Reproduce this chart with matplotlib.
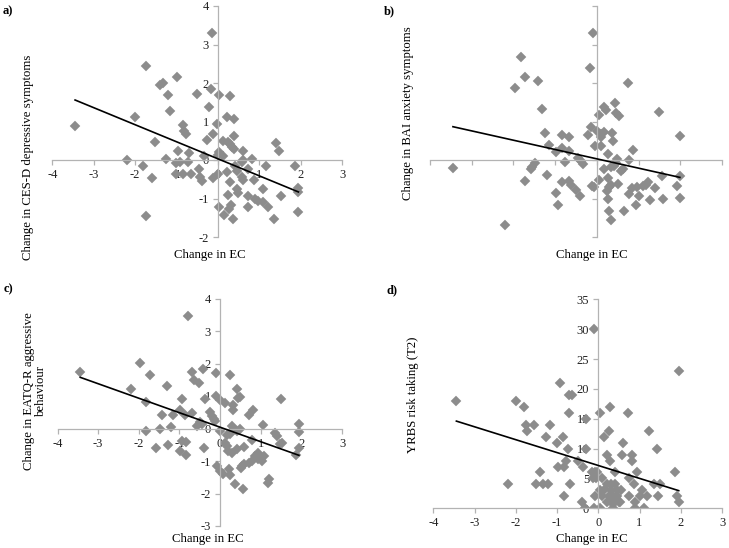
import matplotlib.pyplot as plt

plt.rcParams['font.family'] = ['Liberation Serif', 'DejaVu Serif']
plt.rcParams['axes.unicode_minus'] = False

# a) change in EC vs change in CES-D depressive symptoms
ec_a = [-3.45, -2.0, -1.75, -1.40, -1.34, -1.21, -1.17, -1.0, -0.50, -0.18,
        -0.21, 0.03, 0.29, 0.21, 0.39, -0.14, -0.85, -0.82, -0.78, -0.02,
        -0.11, 0.39, -1.52, -0.26, 0.13, 0.25, 0.29, 0.34, 0.39, -0.96,
        -0.69, 0.03, 0.01, -0.35, 0.13, 0.60, 0.60, 0.83, 0.59, 1.40,
        1.48, 1.17, 1.86, -2.2, -1.26, -1.02, -0.72, -1.82, -1.59, -1.02,
        -0.84, -0.65, -0.45, -0.43, -0.39, -0.13, 0.01, 0.21, 0.29, 0.47,
        0.61, 0.87, 0.73, 0.47, 0.49, 0.23, 0.72, 1.09, 0.89, 0.97,
        1.08, 1.20, 0.73, 1.51, 1.94, 1.92, 1.94, 1.35, 0.02, 0.31,
        0.27, 0.14, 0.37, -1.75, 0.41, -0.92, 0.57]
dep_a = [0.89, 1.11, 2.43, 1.95, 2.0, 1.70, 1.26, 2.16, 1.71, 1.84,
         1.38, 1.69, 1.67, 1.12, 1.06, 3.29, 0.92, 0.75, 0.68, 0.94,
         0.68, 0.63, 0.46, 0.52, 0.50, 0.48, 0.42, 0.35, 0.29, 0.23,
         0.17, 0.20, 0.14, 0.11, 0.11, 0.24, 0.0, 0.03, -0.06, 0.44,
         0.24, -0.15, -0.15, 0.0, 0.03, -0.08, -0.06, -0.16, -0.48, -0.36,
         -0.36, -0.36, -0.23, -0.43, -0.54, -0.48, -0.36, -0.32, -0.58, -0.28,
         -0.52, -0.52, -0.23, -0.75, -0.86, -0.91, -0.94, -0.75, -1.01, -1.06,
         -1.10, -1.23, -1.21, -0.94, -0.74, -0.84, -1.36, -1.53, -1.23, -1.17,
         -1.27, -1.43, -1.52, -1.45, -0.15, -0.06, -0.45]
trend_a = (-0.443, 0.03)

# b) change in EC vs change in BAI anxiety symptoms
ec_b = [-1.82, -1.73, -1.97, -1.41, -1.31, -0.09, -0.17, 0.75, 0.43, 0.18,
        0.21, 0.06, 0.47, 0.53, 1.49, -1.25, -0.83, -0.67, -0.14, -0.21,
        0.01, 0.09, 0.11, 0.18, 0.37, 0.38, 1.99, -1.15, -0.98, -0.83,
        -0.67, -0.05, 0.09, 0.27, 0.87, -0.77, -0.46, -0.39, -0.33, -1.49,
        -1.55, -1.59, 0.49, 0.46, 0.41, 0.34, 0.18, 0.57, 0.63, 0.78,
        -1.19, -1.73, -0.83, -0.67, -0.61, -0.49, -0.99, -0.41, -0.93, -0.11,
        -0.07, 0.06, 0.26, 0.34, 0.29, 0.25, 0.51, 0.26, 0.29, 0.35,
        0.66, 0.77, 0.85, 0.97, 1.01, 0.93, 1.11, 1.17, 1.23, 1.27,
        1.39, 1.55, 1.58, 1.93, 1.99, 1.99, -3.45, -2.21]
anx_b = [2.67, 2.15, 1.86, 2.06, 1.32, 3.29, 2.39, 1.99, 1.47, 1.37,
         1.31, 1.18, 1.21, 1.15, 1.24, 0.69, 0.66, 0.59, 0.85, 0.66,
         0.75, 0.68, 0.59, 0.72, 0.70, 0.50, 0.62, 0.39, 0.20, 0.31,
         0.23, 0.36, 0.36, 0.16, 0.27, -0.06, 0.04, -0.02, -0.10, -0.08,
         -0.19, -0.23, 0.03, -0.08, -0.15, -0.19, -0.23, -0.28, -0.23, 0.01,
         -0.38, -0.54, -0.56, -0.54, -0.65, -0.77, -0.87, -0.93, -1.17, -0.67,
         -0.71, -0.51, -0.47, -0.64, -0.71, -0.80, -0.63, -1.0, -1.32, -1.55,
         -1.32, -0.88, -0.73, -0.71, -0.93, -1.17, -0.68, -0.65, -0.58, -1.03,
         -0.74, -0.42, -1.01, -0.68, -0.42, -0.99, -0.22, -1.69]
trend_b = (-0.242, 0.03)

# c) change in EC vs change in EATQ-R aggressive behaviour
ec_c = [-0.78, -3.44, -1.97, -1.72, -2.19, -1.31, -0.70, -0.63, -0.52, -0.43,
        -0.11, 0.25, -0.94, -0.37, -0.10, 0.0, 0.11, 0.41, 0.43, 0.49,
        0.31, 0.33, 1.50, 0.82, 0.72, -1.83, -1.42, -1.17, -0.98, -0.86,
        -0.70, -0.25, -0.19, -0.16, -0.12, -1.83, -1.49, -1.2, -0.57, -0.49,
        -0.45, 0.0, 0.16, 0.25, 0.30, 0.35, 0.41, 0.49, 0.79, 1.06,
        1.35, 1.41, 1.52, 1.47, 1.94, 1.94, 1.94, 1.88, -1.58, -1.27,
        -0.94, -0.84, -0.98, -0.84, -0.39, 0.11, 0.16, 0.20, 0.29, 0.41,
        0.60, 0.70, 0.78, 0.86, 0.94, 0.93, 1.02, 1.08, 0.51, 0.55,
        0.60, -0.08, 0.0, 0.07, 0.23, 0.25, 0.37, 0.57, 1.21, 1.17]
agg_c = [3.47, 1.73, 2.02, 1.64, 1.22, 1.30, 1.73, 1.50, 1.40, 1.83,
         1.71, 1.66, 0.92, 0.92, 1.01, 0.89, 0.79, 1.23, 0.94, 0.97,
         0.71, 0.58, 0.92, 0.58, 0.43, 0.81, 0.43, 0.43, 0.58, 0.43,
         0.48, 0.50, 0.40, 0.30, 0.22, -0.08, -0.03, 0.04, 0.07, 0.19,
         0.15, -0.08, -0.20, -0.18, 0.07, -0.03, -0.08, -0.03, -0.34, 0.12,
         -0.13, -0.24, -0.44, -0.49, 0.14, -0.11, -0.59, -0.80, -0.59, -0.52,
         -0.37, -0.42, -0.70, -0.82, -0.59, -0.44, -0.54, -0.70, -0.75, -0.64,
         -0.57, -1.05, -1.0, -0.85, -0.75, -0.95, -1.0, -0.85, -1.21, -1.16,
         -1.10, -1.16, -1.31, -1.39, -1.24, -1.44, -1.72, -1.85, -1.56, -1.67]
trend_c = (-0.446, 0.04)

# d) change in EC vs YRBS risk taking (T2)
ec_d = [-0.10, 1.95, -0.94, -0.70, -0.64, -3.44, -1.99, -1.81, 0.29, -0.70,
        0.03, 0.72, -1.76, -1.57, -1.74, -1.16, -1.26, -0.86, -1.0, -0.74,
        -0.30, -0.30, 0.25, 0.15, 1.22, 0.21, 0.29, 0.57, 0.61, 0.82,
        0.82, 1.42, -0.84, -0.78, -0.50, -0.98, -0.36, -1.41, -0.15, -0.09,
        -0.03, -0.13, -0.06, 0.09, 0.40, 0.94, 0.74, 1.87, -2.19, -1.51,
        -1.33, -1.21, -0.68, 0.86, 1.34, 1.50, 0.20, 0.30, 0.40, 0.05,
        0.15, 0.30, 0.45, 0.55, 0.10, 0.25, 0.35, 0.45, 0.20, 0.30,
        0.40, 0.50, 0.53, 0.35, 1.06, 1.02, 0.74, 1.18, 1.46, 1.92,
        1.95, -0.82, -0.40, -0.32, -0.11, 0.05, 0.90, 1.10, 0.90, -0.08]
risk_d = [30, 23, 21, 19, 19, 18, 18, 17, 17, 16,
          16, 16, 14, 14, 13, 14, 12, 12, 11, 10,
          15, 10, 13, 12, 13, 9, 8, 9, 11, 9,
          8, 10, 7, 8, 8, 7, 7, 6, 6, 6,
          6, 5, 5, 5, 6, 6, 5, 6, 4, 4,
          4, 4, 4, 4, 4, 4, 4, 4, 4, 3,
          3, 3, 3, 3, 2, 2, 2, 2, 1, 1,
          1, 1, 1, 0, 3, 2, 2, 2, 2, 2,
          1, 2, 1, 0, 0, 0, 0, 0, 1, 2]
trend_d = (-2.16, 7.17)

ec_ticks = list(range(-4, 4))
marker_col = '#8c8c8c'
axis_col = '#b3b3b3'

fig = plt.figure(figsize=(7.29, 5.48), dpi=100)


def draw_panel(rect, x, y, trend, ylim, yticks, labels=True):
    ax = fig.add_axes(rect)
    ax.plot(x, y, 'D', ms=4.7, color=marker_col, mec=marker_col, mew=0.3, zorder=2)
    lo, hi = min(x), max(x)
    ax.plot([lo, hi], [trend[0] * lo + trend[1], trend[0] * hi + trend[1]],
            color='black', lw=1.2, zorder=3)
    ax.set_xlim(-4, 3)
    ax.set_ylim(*ylim)
    ax.set_xticks(ec_ticks)
    ax.set_yticks(yticks)
    for side in ['top', 'right']:
        ax.spines[side].set_visible(False)
    for side in ['left', 'bottom']:
        ax.spines[side].set_position(('data', 0))
        ax.spines[side].set_color(axis_col)
        ax.spines[side].set_linewidth(0.9)
    ax.tick_params(direction='out', length=3.5, width=0.9, color=axis_col,
                   labelsize=9, labelcolor='#222222', pad=3)
    if not labels:
        ax.tick_params(labelbottom=False, labelleft=False)
    ax.patch.set_alpha(0)
    return ax


draw_panel([52.3 / 729, 1 - 237 / 548, 290 / 729, 231 / 548],
           ec_a, dep_a, trend_a, (-2, 4), range(-2, 5))
draw_panel([430 / 729, 1 - 237 / 548, 292 / 729, 231 / 548],
           ec_b, anx_b, trend_b, (-2, 4), range(-2, 5), labels=False)
draw_panel([57.5 / 729, 1 - 526 / 548, 284.5 / 729, 227.5 / 548],
           ec_c, agg_c, trend_c, (-3, 4), range(-3, 5))
draw_panel([433.3 / 729, 1 - 508.3 / 548, 288.7 / 729, 209 / 548],
           ec_d, risk_d, trend_d, (0, 35), range(0, 36, 5))


def px_text(x, y, s, **kw):
    fig.text(x / 729, 1 - y / 548, s, ha='center', va='center', **kw)


# axis titles
px_text(210, 255, 'Change in EC', fontsize=9.2)
px_text(592, 255, 'Change in EC', fontsize=9.2)
px_text(208, 539, 'Change in EC', fontsize=9.2)
px_text(592, 539, 'Change in EC', fontsize=9.2)
px_text(28, 157, 'Change in CES-D depressive symptoms', fontsize=9.2, rotation=90)
px_text(408, 113, 'Change in BAI anxiety symptoms', fontsize=9.2, rotation=90)
px_text(35, 391, 'Change in EATQ-R aggressive\nbehaviour', fontsize=9.2,
        rotation=90, multialignment='center', linespacing=1.0)
px_text(413, 395, 'YRBS risk taking (T2)', fontsize=9.2, rotation=90)

# panel letters
px_text(8, 11, 'a)', fontsize=9, fontweight='bold')
px_text(389, 11, 'b)', fontsize=9, fontweight='bold')
px_text(8, 289, 'c)', fontsize=9, fontweight='bold')
px_text(392, 290, 'd)', fontsize=9, fontweight='bold')

fig.savefig('out.png', dpi=100)
